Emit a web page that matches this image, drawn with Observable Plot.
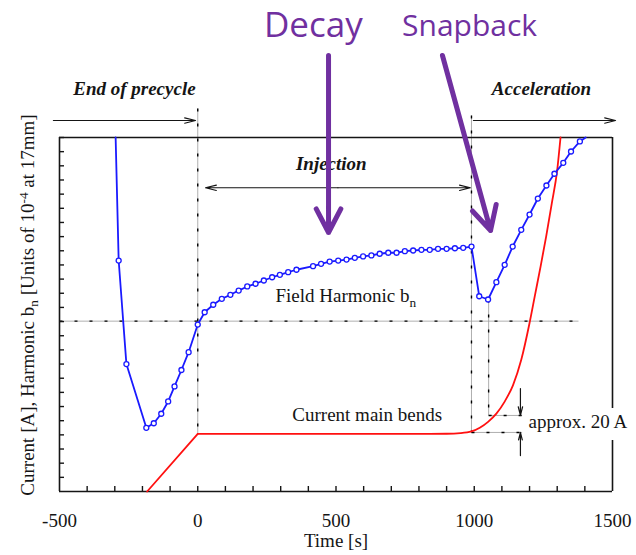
<!DOCTYPE html>
<html><head><meta charset="utf-8">
<script src="https://cdn.jsdelivr.net/npm/d3@7"></script>
<script src="https://cdn.jsdelivr.net/npm/@observablehq/plot@0.6"></script>
<style>body{margin:0;background:#fff}</style>
</head><body><div id="chart"></div>
<script>
// ---- data (time in s, level in chart units) ----
const timeTicks = [-500, 0, 500, 1000, 1500];
const minorTimeTicks = [-400,-300,-200,-100,0,100,200,300,400,500,600,700,800,900,1000,1100,1200,1300,1400];
const levelTicks = [1,2,3,4,5,6,7,8,9,10,11,12,13,14,15,16,17,18,19,20,21,22,23,24,25];

// Field harmonic b_n (blue, with markers)
const bnTime = [-297,-286,-258,-186,-159,-132,-107,-84,-59,-33,0,25,56,87,118,148,179,209,239,269,297,327,357,417,446,477,508,538,568,598,628,658,689,719,749,779,809,839,869,900,930,960,990,1018,1050,1080,1110,1139,1170,1200,1230,1261,1290,1322,1350,1382,1403];
const bnValue = [25,16.31,9.00,4.50,4.82,5.49,6.36,7.42,8.58,9.84,11.79,12.66,13.19,13.61,13.89,14.19,14.48,14.67,14.90,15.13,15.30,15.49,15.66,15.91,16.08,16.24,16.31,16.38,16.50,16.60,16.67,16.79,16.86,16.86,16.97,17.02,17.07,17.07,17.14,17.14,17.18,17.21,17.30,13.79,13.56,14.78,16.01,17.30,18.48,19.56,20.69,21.61,22.44,23.21,24.01,24.72,25];

// Current main bends (red)
const currentTime = [-183,0,200,400,600,800,900,950,990,1020,1050,1080,1110,1140,1170,1200,1220,1240,1260,1280,1300,1312];
const currentValue = [0,4.07,4.07,4.07,4.07,4.07,4.08,4.12,4.24,4.5,4.92,5.5,6.35,7.5,9.3,11.9,13.9,15.9,18.0,20.3,22.7,25];

// guide lines
const guideX1 = [-500, 0, 990, 1052, 1052, 990];
const guideY1 = [12.03, 27.05, 26.55, 13.56, 5.37, 4.17];
const guideX2 = [1377, 0, 990, 1052, 1173, 1173];
const guideY2 = [12.03, 4.07, 4.17, 5.37, 5.37, 4.17];

// black arrows (phase spans, 20 A bracket)
const arrowX1 = [-522, 997, 507, 507, 1167, 1167];
const arrowY1 = [26.2, 26.2, 21.45, 21.45, 7.27, 2.54];
const arrowX2 = [-8, 1511, 28, 986, 1167, 1167];
const arrowY2 = [26.2, 26.2, 21.45, 21.45, 5.37, 4.17];

// purple callouts
const calloutText = ["Decay", "Snapback"];
const calloutTextX = [418, 983];
const calloutTextY = [32.1, 32.2];
const calloutSize = [35, 30];
const calloutX1 = [473, 885];
const calloutY1 = [30.79, 30.79];
const calloutX2 = [473, 1059];
const calloutY2 = [18.29, 18.43];

// phase labels
const phaseText = ["End of precycle", "Injection", "Acceleration"];
const phaseX = [-229, 483, 1243];
const phaseY = [27.97, 22.74, 27.97];

// curve labels
const curveText = ["Field Harmonic bₙ", "Current main bends", "approx. 20 A"];
const curveX = [281, 342, 1196];
const curveY = [13.35, 5.01, 4.45];

const xLabel = "Time [s]";
const yLabel = "Current [A], Harmonic bₙ [Units of 10⁻⁴ at 17mm]";

// right frame segments (gap behind "approx. 20 A")
const rightFrameY1 = [0, 5.86];
const rightFrameY2 = [3.6, 25];

// ---- build ----
const W = 636, H = 555, mL = 59, mR = 24, mT = 137, mB = 64;
const plotW = W - mL - mR, plotH = H - mT - mB;
const idx = (a) => a.map((_, i) => i);
const ink = "#151515";
const purple = "#7030A0";
const bnData = idx(bnTime);
const bnMarkers = bnData.filter(i => bnValue[i] < 25);
const curData = idx(currentTime);

const chart = Plot.plot({
  width: W, height: H,
  marginLeft: mL, marginRight: mR, marginTop: mT, marginBottom: mB,
  x: {domain: [-500, 1500]},
  y: {domain: [0, 25], axis: null},
  style: {fontFamily: "'Liberation Serif', 'Times New Roman', serif", fontSize: "19px", background: "#fff", color: ink},
  marks: [
    // guides
    Plot.link(idx(guideX1), {x1: i => guideX1[i], y1: i => guideY1[i], x2: i => guideX2[i], y2: i => guideY2[i], stroke: "#9a9a9a", strokeWidth: 0.8}),
    Plot.link(idx(guideX1), {x1: i => guideX1[i], y1: i => guideY1[i], x2: i => guideX2[i], y2: i => guideY2[i], stroke: "#000", strokeWidth: 1.4, strokeDasharray: "3,12"}),
    // frame
    Plot.ruleX([-500], {y1: 0, y2: 25, stroke: ink, strokeWidth: 1.6}),
    Plot.ruleY([0, 25], {x1: -500, x2: 1500, stroke: ink, strokeWidth: 1.6}),
    Plot.ruleX(idx(rightFrameY1), {x: 1500, y1: i => rightFrameY1[i], y2: i => rightFrameY2[i], stroke: ink, strokeWidth: 1.6}),
    // inward ticks
    Plot.tickY(levelTicks, {y: d => d, insetRight: plotW - 5, stroke: ink, strokeWidth: 1.4}),
    Plot.tickX(minorTimeTicks, {x: d => d, insetTop: plotH - 5, stroke: ink, strokeWidth: 1.4}),
    Plot.axisX({ticks: timeTicks, tickSize: 0, tickPadding: 22, tickFormat: d => String(d), label: null, fontSize: 19}),
    // current
    Plot.line(curData.slice(0, 2), {x: i => currentTime[i], y: i => currentValue[i], stroke: "#ff1010", strokeWidth: 1.8}),
    Plot.line(curData.slice(1), {x: i => currentTime[i], y: i => currentValue[i], stroke: "#ff1010", strokeWidth: 1.8, curve: "monotone-x"}),
    // field harmonic
    Plot.line(bnData, {x: i => bnTime[i], y: i => bnValue[i], stroke: "#1a1aff", strokeWidth: 1.8}),
    Plot.dot(bnMarkers, {x: i => bnTime[i], y: i => bnValue[i], r: 2.5, stroke: "#1a1aff", fill: "#fff", strokeWidth: 1.3}),
    // black arrows
    Plot.arrow(idx(arrowX1), {x1: i => arrowX1[i], y1: i => arrowY1[i], x2: i => arrowX2[i], y2: i => arrowY2[i], stroke: ink, strokeWidth: 1.2, headLength: 14, headAngle: 28}),
    // labels
    Plot.text(idx(phaseText), {x: i => phaseX[i], y: i => phaseY[i], text: i => phaseText[i], fontStyle: "italic", fontWeight: "bold", fontSize: 19, lineAnchor: "bottom", textAnchor: "middle", fill: ink}),
    Plot.text(idx(curveText), {x: i => curveX[i], y: i => curveY[i], text: i => curveText[i], fontSize: 19, lineAnchor: "bottom", textAnchor: "start", fill: ink}),
    Plot.text([xLabel], {frameAnchor: "bottom", dy: 55, text: d => d, fontSize: 19, lineAnchor: "bottom", textAnchor: "middle", fill: ink}),
    Plot.text([yLabel], {frameAnchor: "left", dx: -32, dy: -9.5, rotate: -90, text: d => d, fontSize: 19, lineAnchor: "middle", textAnchor: "middle", fill: ink}),
    // purple callouts
    Plot.arrow(idx(calloutX1), {x1: i => calloutX1[i], y1: i => calloutY1[i], x2: i => calloutX2[i], y2: i => calloutY2[i], stroke: purple, strokeWidth: 5, headLength: 8, headAngle: 55}),
    Plot.text(idx(calloutText), {x: i => calloutTextX[i], y: i => calloutTextY[i], text: i => calloutText[i], fontSize: i => calloutSize[i], fontFamily: "'Open Sans', 'DejaVu Sans', sans-serif", lineAnchor: "bottom", textAnchor: "middle", fill: purple})
  ]
});

// render sub/superscripts as real tspans
d3.select(chart).selectAll("text").each(function() {
  const t = this.textContent;
  if (!/(ₙ|⁻⁴)/.test(t) || this.querySelector("tspan")) return;
  const parts = t.split(/(ₙ|⁻⁴)/).filter(p => p.length);
  const el = d3.select(this);
  el.text(null);
  let shift = 0;
  for (const p of parts) {
    const ts = el.append("tspan");
    if (p === "ₙ") { ts.text("n").attr("font-size", "0.7em").attr("dy", (0.32 - shift) + "em"); shift = 0.32; }
    else if (p === "⁻⁴") { ts.text("-4").attr("font-size", "0.7em").attr("dy", (-0.45 - shift) + "em"); shift = -0.45; }
    else { ts.text(p); if (shift) { ts.attr("dy", (-shift * 0.7) + "em"); } shift = 0; }
  }
});

document.getElementById("chart").appendChild(chart);
</script></body></html>
